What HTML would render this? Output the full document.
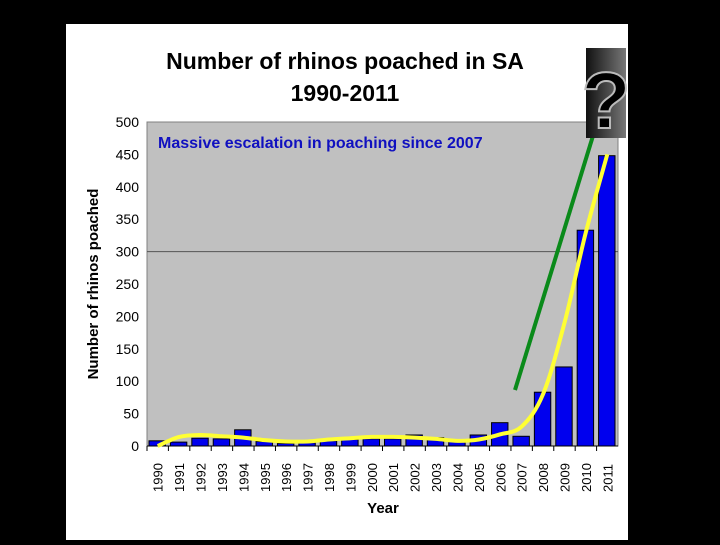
<!DOCTYPE html>
<html><head><meta charset="utf-8"><style>
body{margin:0;background:#000;width:720px;height:540px;overflow:hidden;font-family:"Liberation Sans",sans-serif}
</style></head><body>
<svg width="720" height="540">
<defs><linearGradient id="qg" x1="0" y1="0" x2="1" y2="0"><stop offset="0" stop-color="#111"/><stop offset="1" stop-color="#777"/></linearGradient></defs>
<rect x="0" y="0" width="720" height="540" fill="#000"/>
<rect x="66" y="24" width="562" height="516" fill="#fff"/>
<text x="345" y="69" text-anchor="middle" font-size="23" font-weight="bold">Number of rhinos poached in SA</text>
<text x="345" y="101" text-anchor="middle" font-size="23" font-weight="bold">1990-2011</text>
<rect x="147" y="122" width="471" height="324" fill="#c0c0c0" stroke="#808080"/>
<g id="grid"></g><g id="bars"></g><g id="axes"></g>
<text transform="translate(98,284) rotate(-90)" text-anchor="middle" font-size="15" font-weight="bold">Number of rhinos poached</text>
<text x="383" y="513" text-anchor="middle" font-size="15" font-weight="bold">Year</text>
<text x="158" y="148" font-size="16" font-weight="bold" fill="#1010c0">Massive escalation in poaching since 2007</text>
<path id="trend" fill="none" stroke="#ffff33" stroke-width="4"/>
<line x1="515" y1="390" x2="596" y2="126" stroke="#0a8a1a" stroke-width="4"/>
<polygon points="599,117 590,130 602,132" fill="#0a8a1a"/>
<rect x="586" y="48" width="40" height="90" fill="url(#qg)"/>
<text x="606" y="128" text-anchor="middle" font-size="80" font-weight="bold" fill="#000" stroke="#bbb" stroke-width="2">?</text>
</svg>
<script>
const years=["1990","1991","1992","1993","1994","1995","1996","1997","1998","1999","2000","2001","2002","2003","2004","2005","2006","2007","2008","2009","2010","2011"];
const poached=[8,6,12,11,25,7,4,5,8,10,11,11,17,13,10,17,36,15,83,122,333,448];
const trend=[0,14,17,15,13,9,7,7,10,12,14,14,13,11,8,10,18,30,80,190,330,450];
const yTicks=[0,50,100,150,200,250,300,350,400,450,500];
const NS="http://www.w3.org/2000/svg";
const X0=147,W=471,Y0=446,H=324,YMAX=500;
const band=W/years.length;
const y=v=>Y0-v/YMAX*H;
const xc=i=>X0+band*(i+0.5);
function mk(t,a,p){const e=document.createElementNS(NS,t);for(const k in a)e.setAttribute(k,a[k]);p.appendChild(e);return e;}
const grid=document.getElementById('grid'),bars=document.getElementById('bars'),axes=document.getElementById('axes');
const gl=mk('line',{x1:X0,x2:X0+W,y1:y(300),y2:y(300),stroke:'#555'},grid);


yTicks.forEach(t=>{
 const tx=mk('text',{x:139,y:y(t)+5,'text-anchor':'end','font-size':14},axes);
 tx.textContent=t;
 
 
});
mk('line',{x1:X0,x2:X0+W,y1:Y0,y2:Y0,stroke:'#000'},axes);
poached.forEach((v,i)=>{
 const r=mk('rect',{x:X0+band*i+2,y:y(v),width:band-5,height:Y0-y(v),fill:'#0000ee',stroke:'#000','stroke-width':1},bars);
 
 
 mk('line',{x1:X0+band*i,x2:X0+band*i,y1:Y0,y2:Y0+5,stroke:'#000'},axes);
 const tx=mk('text',{transform:`translate(${xc(i)+5},${Y0+46}) rotate(-90)`,'font-size':13},axes);
 tx.textContent=years[i];
 
 
});
const pts=trend.map((v,i)=>[xc(i),y(v)]);
let d=`M${pts[0][0]},${pts[0][1]}`;
for(let i=0;i<pts.length-1;i++){const p0=pts[Math.max(0,i-1)],p1=pts[i],p2=pts[i+1],p3=pts[Math.min(pts.length-1,i+2)];
 d+=` C${p1[0]+(p2[0]-p0[0])/6},${p1[1]+(p2[1]-p0[1])/6} ${p2[0]-(p3[0]-p1[0])/6},${p2[1]-(p3[1]-p1[1])/6} ${p2[0]},${p2[1]}`;}
document.getElementById('trend').setAttribute('d',d);
</script>
</body></html>
